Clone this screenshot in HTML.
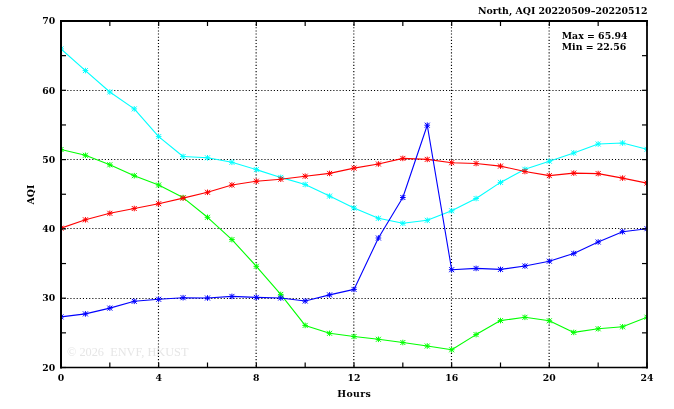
<!DOCTYPE html>
<html lang="en">
<head>
<meta charset="utf-8">
<title>North, AQI 20220509-20220512</title>
<style>
html,body{margin:0;padding:0;background:#fff;}
body{width:674px;height:409px;overflow:hidden;}
svg{display:block;}
text{font-family:"DejaVu Serif", "Liberation Serif", serif;font-weight:bold;fill:#000;}
.tk{font-size:9.3px;}
.lb{font-size:9.4px;}
.wm{font-family:"Liberation Serif",serif;font-weight:normal;font-size:12.3px;fill:#e6e6e6;}
</style>
</head>
<body>
<svg width="674" height="409" viewBox="0 0 674 409">
<rect x="0" y="0" width="674" height="409" fill="#ffffff"/>

<text class="wm" x="67" y="355.7" xml:space="preserve">© 2026  ENVF, HKUST</text>
<g stroke="#000" stroke-width="1.15" stroke-dasharray="1.1 2.03" fill="none">
<line x1="158.47" y1="21.0" x2="158.47" y2="367.5"/>
<line x1="256.13" y1="21.0" x2="256.13" y2="367.5"/>
<line x1="353.80" y1="21.0" x2="353.80" y2="367.5"/>
<line x1="451.47" y1="21.0" x2="451.47" y2="367.5"/>
<line x1="549.13" y1="21.0" x2="549.13" y2="367.5"/>
<line x1="61.0" y1="90.50" x2="647.0" y2="90.50"/>
<line x1="61.0" y1="159.50" x2="647.0" y2="159.50"/>
<line x1="61.0" y1="228.50" x2="647.0" y2="228.50"/>
<line x1="61.0" y1="298.50" x2="647.0" y2="298.50"/>
</g>
<svg x="61" y="0" width="586" height="409" viewBox="61 0 586 409" overflow="hidden">
<g stroke="#00ffff" fill="none">
<polyline stroke-width="1.1" stroke-linejoin="round" points="61.00,48.90 85.42,70.60 109.83,92.00 134.25,108.90 158.67,136.60 183.08,156.50 207.50,157.80 231.92,162.30 256.33,169.60 280.75,177.40 305.17,184.50 329.58,196.10 354.00,208.00 378.42,218.30 402.83,223.30 427.25,220.30 451.67,210.80 476.08,198.50 500.50,182.40 524.92,169.30 549.33,161.20 573.75,152.90 598.17,144.00 622.58,143.00 647.00,149.30"/>
<path stroke-width="1.0" d="M58.20 48.90H63.80M61.00 46.10V51.70M58.50 46.40L63.50 51.40M58.50 51.40L63.50 46.40M82.62 70.60H88.22M85.42 67.80V73.40M82.92 68.10L87.92 73.10M82.92 73.10L87.92 68.10M107.03 92.00H112.63M109.83 89.20V94.80M107.33 89.50L112.33 94.50M107.33 94.50L112.33 89.50M131.45 108.90H137.05M134.25 106.10V111.70M131.75 106.40L136.75 111.40M131.75 111.40L136.75 106.40M155.87 136.60H161.47M158.67 133.80V139.40M156.17 134.10L161.17 139.10M156.17 139.10L161.17 134.10M180.28 156.50H185.88M183.08 153.70V159.30M180.58 154.00L185.58 159.00M180.58 159.00L185.58 154.00M204.70 157.80H210.30M207.50 155.00V160.60M205.00 155.30L210.00 160.30M205.00 160.30L210.00 155.30M229.12 162.30H234.72M231.92 159.50V165.10M229.42 159.80L234.42 164.80M229.42 164.80L234.42 159.80M253.53 169.60H259.13M256.33 166.80V172.40M253.83 167.10L258.83 172.10M253.83 172.10L258.83 167.10M277.95 177.40H283.55M280.75 174.60V180.20M278.25 174.90L283.25 179.90M278.25 179.90L283.25 174.90M302.37 184.50H307.97M305.17 181.70V187.30M302.67 182.00L307.67 187.00M302.67 187.00L307.67 182.00M326.78 196.10H332.38M329.58 193.30V198.90M327.08 193.60L332.08 198.60M327.08 198.60L332.08 193.60M351.20 208.00H356.80M354.00 205.20V210.80M351.50 205.50L356.50 210.50M351.50 210.50L356.50 205.50M375.62 218.30H381.22M378.42 215.50V221.10M375.92 215.80L380.92 220.80M375.92 220.80L380.92 215.80M400.03 223.30H405.63M402.83 220.50V226.10M400.33 220.80L405.33 225.80M400.33 225.80L405.33 220.80M424.45 220.30H430.05M427.25 217.50V223.10M424.75 217.80L429.75 222.80M424.75 222.80L429.75 217.80M448.87 210.80H454.47M451.67 208.00V213.60M449.17 208.30L454.17 213.30M449.17 213.30L454.17 208.30M473.28 198.50H478.88M476.08 195.70V201.30M473.58 196.00L478.58 201.00M473.58 201.00L478.58 196.00M497.70 182.40H503.30M500.50 179.60V185.20M498.00 179.90L503.00 184.90M498.00 184.90L503.00 179.90M522.12 169.30H527.72M524.92 166.50V172.10M522.42 166.80L527.42 171.80M522.42 171.80L527.42 166.80M546.53 161.20H552.13M549.33 158.40V164.00M546.83 158.70L551.83 163.70M546.83 163.70L551.83 158.70M570.95 152.90H576.55M573.75 150.10V155.70M571.25 150.40L576.25 155.40M571.25 155.40L576.25 150.40M595.37 144.00H600.97M598.17 141.20V146.80M595.67 141.50L600.67 146.50M595.67 146.50L600.67 141.50M619.78 143.00H625.38M622.58 140.20V145.80M620.08 140.50L625.08 145.50M620.08 145.50L625.08 140.50M644.20 149.30H649.80M647.00 146.50V152.10M644.50 146.80L649.50 151.80M644.50 151.80L649.50 146.80"/>
</g>
<g stroke="#00ff00" fill="none">
<polyline stroke-width="1.1" stroke-linejoin="round" points="61.00,149.50 85.42,155.30 109.83,164.80 134.25,175.70 158.67,185.00 183.08,197.60 207.50,217.30 231.92,239.60 256.33,266.30 280.75,294.40 305.17,325.40 329.58,333.30 354.00,336.50 378.42,339.30 402.83,342.50 427.25,346.00 451.67,349.80 476.08,334.60 500.50,320.60 524.92,317.30 549.33,320.80 573.75,332.40 598.17,328.80 622.58,326.80 647.00,317.20"/>
<path stroke-width="1.0" d="M58.20 149.50H63.80M61.00 146.70V152.30M58.50 147.00L63.50 152.00M58.50 152.00L63.50 147.00M82.62 155.30H88.22M85.42 152.50V158.10M82.92 152.80L87.92 157.80M82.92 157.80L87.92 152.80M107.03 164.80H112.63M109.83 162.00V167.60M107.33 162.30L112.33 167.30M107.33 167.30L112.33 162.30M131.45 175.70H137.05M134.25 172.90V178.50M131.75 173.20L136.75 178.20M131.75 178.20L136.75 173.20M155.87 185.00H161.47M158.67 182.20V187.80M156.17 182.50L161.17 187.50M156.17 187.50L161.17 182.50M180.28 197.60H185.88M183.08 194.80V200.40M180.58 195.10L185.58 200.10M180.58 200.10L185.58 195.10M204.70 217.30H210.30M207.50 214.50V220.10M205.00 214.80L210.00 219.80M205.00 219.80L210.00 214.80M229.12 239.60H234.72M231.92 236.80V242.40M229.42 237.10L234.42 242.10M229.42 242.10L234.42 237.10M253.53 266.30H259.13M256.33 263.50V269.10M253.83 263.80L258.83 268.80M253.83 268.80L258.83 263.80M277.95 294.40H283.55M280.75 291.60V297.20M278.25 291.90L283.25 296.90M278.25 296.90L283.25 291.90M302.37 325.40H307.97M305.17 322.60V328.20M302.67 322.90L307.67 327.90M302.67 327.90L307.67 322.90M326.78 333.30H332.38M329.58 330.50V336.10M327.08 330.80L332.08 335.80M327.08 335.80L332.08 330.80M351.20 336.50H356.80M354.00 333.70V339.30M351.50 334.00L356.50 339.00M351.50 339.00L356.50 334.00M375.62 339.30H381.22M378.42 336.50V342.10M375.92 336.80L380.92 341.80M375.92 341.80L380.92 336.80M400.03 342.50H405.63M402.83 339.70V345.30M400.33 340.00L405.33 345.00M400.33 345.00L405.33 340.00M424.45 346.00H430.05M427.25 343.20V348.80M424.75 343.50L429.75 348.50M424.75 348.50L429.75 343.50M448.87 349.80H454.47M451.67 347.00V352.60M449.17 347.30L454.17 352.30M449.17 352.30L454.17 347.30M473.28 334.60H478.88M476.08 331.80V337.40M473.58 332.10L478.58 337.10M473.58 337.10L478.58 332.10M497.70 320.60H503.30M500.50 317.80V323.40M498.00 318.10L503.00 323.10M498.00 323.10L503.00 318.10M522.12 317.30H527.72M524.92 314.50V320.10M522.42 314.80L527.42 319.80M522.42 319.80L527.42 314.80M546.53 320.80H552.13M549.33 318.00V323.60M546.83 318.30L551.83 323.30M546.83 323.30L551.83 318.30M570.95 332.40H576.55M573.75 329.60V335.20M571.25 329.90L576.25 334.90M571.25 334.90L576.25 329.90M595.37 328.80H600.97M598.17 326.00V331.60M595.67 326.30L600.67 331.30M595.67 331.30L600.67 326.30M619.78 326.80H625.38M622.58 324.00V329.60M620.08 324.30L625.08 329.30M620.08 329.30L625.08 324.30M644.20 317.20H649.80M647.00 314.40V320.00M644.50 314.70L649.50 319.70M644.50 319.70L649.50 314.70"/>
</g>
<g stroke="#ff0000" fill="none">
<polyline stroke-width="1.1" stroke-linejoin="round" points="61.00,228.20 85.42,219.80 109.83,213.30 134.25,208.50 158.67,203.70 183.08,198.10 207.50,192.30 231.92,185.00 256.33,181.20 280.75,179.20 305.17,176.20 329.58,173.40 354.00,168.10 378.42,164.00 402.83,158.40 427.25,159.40 451.67,162.70 476.08,163.50 500.50,166.10 524.92,171.50 549.33,175.60 573.75,173.10 598.17,173.60 622.58,178.10 647.00,183.10"/>
<path stroke-width="1.0" d="M58.20 228.20H63.80M61.00 225.40V231.00M58.50 225.70L63.50 230.70M58.50 230.70L63.50 225.70M82.62 219.80H88.22M85.42 217.00V222.60M82.92 217.30L87.92 222.30M82.92 222.30L87.92 217.30M107.03 213.30H112.63M109.83 210.50V216.10M107.33 210.80L112.33 215.80M107.33 215.80L112.33 210.80M131.45 208.50H137.05M134.25 205.70V211.30M131.75 206.00L136.75 211.00M131.75 211.00L136.75 206.00M155.87 203.70H161.47M158.67 200.90V206.50M156.17 201.20L161.17 206.20M156.17 206.20L161.17 201.20M180.28 198.10H185.88M183.08 195.30V200.90M180.58 195.60L185.58 200.60M180.58 200.60L185.58 195.60M204.70 192.30H210.30M207.50 189.50V195.10M205.00 189.80L210.00 194.80M205.00 194.80L210.00 189.80M229.12 185.00H234.72M231.92 182.20V187.80M229.42 182.50L234.42 187.50M229.42 187.50L234.42 182.50M253.53 181.20H259.13M256.33 178.40V184.00M253.83 178.70L258.83 183.70M253.83 183.70L258.83 178.70M277.95 179.20H283.55M280.75 176.40V182.00M278.25 176.70L283.25 181.70M278.25 181.70L283.25 176.70M302.37 176.20H307.97M305.17 173.40V179.00M302.67 173.70L307.67 178.70M302.67 178.70L307.67 173.70M326.78 173.40H332.38M329.58 170.60V176.20M327.08 170.90L332.08 175.90M327.08 175.90L332.08 170.90M351.20 168.10H356.80M354.00 165.30V170.90M351.50 165.60L356.50 170.60M351.50 170.60L356.50 165.60M375.62 164.00H381.22M378.42 161.20V166.80M375.92 161.50L380.92 166.50M375.92 166.50L380.92 161.50M400.03 158.40H405.63M402.83 155.60V161.20M400.33 155.90L405.33 160.90M400.33 160.90L405.33 155.90M424.45 159.40H430.05M427.25 156.60V162.20M424.75 156.90L429.75 161.90M424.75 161.90L429.75 156.90M448.87 162.70H454.47M451.67 159.90V165.50M449.17 160.20L454.17 165.20M449.17 165.20L454.17 160.20M473.28 163.50H478.88M476.08 160.70V166.30M473.58 161.00L478.58 166.00M473.58 166.00L478.58 161.00M497.70 166.10H503.30M500.50 163.30V168.90M498.00 163.60L503.00 168.60M498.00 168.60L503.00 163.60M522.12 171.50H527.72M524.92 168.70V174.30M522.42 169.00L527.42 174.00M522.42 174.00L527.42 169.00M546.53 175.60H552.13M549.33 172.80V178.40M546.83 173.10L551.83 178.10M546.83 178.10L551.83 173.10M570.95 173.10H576.55M573.75 170.30V175.90M571.25 170.60L576.25 175.60M571.25 175.60L576.25 170.60M595.37 173.60H600.97M598.17 170.80V176.40M595.67 171.10L600.67 176.10M595.67 176.10L600.67 171.10M619.78 178.10H625.38M622.58 175.30V180.90M620.08 175.60L625.08 180.60M620.08 180.60L625.08 175.60M644.20 183.10H649.80M647.00 180.30V185.90M644.50 180.60L649.50 185.60M644.50 185.60L649.50 180.60"/>
</g>
<g stroke="#0000ff" fill="none">
<polyline stroke-width="1.1" stroke-linejoin="round" points="61.00,316.90 85.42,313.90 109.83,308.10 134.25,301.30 158.67,299.30 183.08,297.70 207.50,298.00 231.92,296.40 256.33,297.40 280.75,298.00 305.17,301.00 329.58,294.90 354.00,289.40 378.42,238.00 402.83,197.50 427.25,125.20 451.67,269.70 476.08,268.40 500.50,269.40 524.92,266.00 549.33,261.20 573.75,253.40 598.17,242.00 622.58,231.70 647.00,228.70"/>
<path stroke-width="1.0" d="M58.20 316.90H63.80M61.00 314.10V319.70M58.50 314.40L63.50 319.40M58.50 319.40L63.50 314.40M82.62 313.90H88.22M85.42 311.10V316.70M82.92 311.40L87.92 316.40M82.92 316.40L87.92 311.40M107.03 308.10H112.63M109.83 305.30V310.90M107.33 305.60L112.33 310.60M107.33 310.60L112.33 305.60M131.45 301.30H137.05M134.25 298.50V304.10M131.75 298.80L136.75 303.80M131.75 303.80L136.75 298.80M155.87 299.30H161.47M158.67 296.50V302.10M156.17 296.80L161.17 301.80M156.17 301.80L161.17 296.80M180.28 297.70H185.88M183.08 294.90V300.50M180.58 295.20L185.58 300.20M180.58 300.20L185.58 295.20M204.70 298.00H210.30M207.50 295.20V300.80M205.00 295.50L210.00 300.50M205.00 300.50L210.00 295.50M229.12 296.40H234.72M231.92 293.60V299.20M229.42 293.90L234.42 298.90M229.42 298.90L234.42 293.90M253.53 297.40H259.13M256.33 294.60V300.20M253.83 294.90L258.83 299.90M253.83 299.90L258.83 294.90M277.95 298.00H283.55M280.75 295.20V300.80M278.25 295.50L283.25 300.50M278.25 300.50L283.25 295.50M302.37 301.00H307.97M305.17 298.20V303.80M302.67 298.50L307.67 303.50M302.67 303.50L307.67 298.50M326.78 294.90H332.38M329.58 292.10V297.70M327.08 292.40L332.08 297.40M327.08 297.40L332.08 292.40M351.20 289.40H356.80M354.00 286.60V292.20M351.50 286.90L356.50 291.90M351.50 291.90L356.50 286.90M375.62 238.00H381.22M378.42 235.20V240.80M375.92 235.50L380.92 240.50M375.92 240.50L380.92 235.50M400.03 197.50H405.63M402.83 194.70V200.30M400.33 195.00L405.33 200.00M400.33 200.00L405.33 195.00M424.45 125.20H430.05M427.25 122.40V128.00M424.75 122.70L429.75 127.70M424.75 127.70L429.75 122.70M448.87 269.70H454.47M451.67 266.90V272.50M449.17 267.20L454.17 272.20M449.17 272.20L454.17 267.20M473.28 268.40H478.88M476.08 265.60V271.20M473.58 265.90L478.58 270.90M473.58 270.90L478.58 265.90M497.70 269.40H503.30M500.50 266.60V272.20M498.00 266.90L503.00 271.90M498.00 271.90L503.00 266.90M522.12 266.00H527.72M524.92 263.20V268.80M522.42 263.50L527.42 268.50M522.42 268.50L527.42 263.50M546.53 261.20H552.13M549.33 258.40V264.00M546.83 258.70L551.83 263.70M546.83 263.70L551.83 258.70M570.95 253.40H576.55M573.75 250.60V256.20M571.25 250.90L576.25 255.90M571.25 255.90L576.25 250.90M595.37 242.00H600.97M598.17 239.20V244.80M595.67 239.50L600.67 244.50M595.67 244.50L600.67 239.50M619.78 231.70H625.38M622.58 228.90V234.50M620.08 229.20L625.08 234.20M620.08 234.20L625.08 229.20M644.20 228.70H649.80M647.00 225.90V231.50M644.50 226.20L649.50 231.20M644.50 231.20L649.50 226.20"/>
</g>
</svg>
<g stroke="#000" stroke-width="1.2" fill="none">
<line x1="61.00" y1="367.5" x2="61.00" y2="362.5"/>
<line x1="61.00" y1="21.0" x2="61.00" y2="26.0"/>
<line x1="109.83" y1="367.5" x2="109.83" y2="362.5"/>
<line x1="109.83" y1="21.0" x2="109.83" y2="26.0"/>
<line x1="158.67" y1="367.5" x2="158.67" y2="362.5"/>
<line x1="158.67" y1="21.0" x2="158.67" y2="26.0"/>
<line x1="207.50" y1="367.5" x2="207.50" y2="362.5"/>
<line x1="207.50" y1="21.0" x2="207.50" y2="26.0"/>
<line x1="256.33" y1="367.5" x2="256.33" y2="362.5"/>
<line x1="256.33" y1="21.0" x2="256.33" y2="26.0"/>
<line x1="305.17" y1="367.5" x2="305.17" y2="362.5"/>
<line x1="305.17" y1="21.0" x2="305.17" y2="26.0"/>
<line x1="354.00" y1="367.5" x2="354.00" y2="362.5"/>
<line x1="354.00" y1="21.0" x2="354.00" y2="26.0"/>
<line x1="402.83" y1="367.5" x2="402.83" y2="362.5"/>
<line x1="402.83" y1="21.0" x2="402.83" y2="26.0"/>
<line x1="451.67" y1="367.5" x2="451.67" y2="362.5"/>
<line x1="451.67" y1="21.0" x2="451.67" y2="26.0"/>
<line x1="500.50" y1="367.5" x2="500.50" y2="362.5"/>
<line x1="500.50" y1="21.0" x2="500.50" y2="26.0"/>
<line x1="549.33" y1="367.5" x2="549.33" y2="362.5"/>
<line x1="549.33" y1="21.0" x2="549.33" y2="26.0"/>
<line x1="598.17" y1="367.5" x2="598.17" y2="362.5"/>
<line x1="598.17" y1="21.0" x2="598.17" y2="26.0"/>
<line x1="647.00" y1="367.5" x2="647.00" y2="362.5"/>
<line x1="647.00" y1="21.0" x2="647.00" y2="26.0"/>
<line x1="61.0" y1="367.50" x2="66.0" y2="367.50"/>
<line x1="647.0" y1="367.50" x2="642.0" y2="367.50"/>
<line x1="61.0" y1="332.85" x2="66.0" y2="332.85"/>
<line x1="647.0" y1="332.85" x2="642.0" y2="332.85"/>
<line x1="61.0" y1="298.20" x2="66.0" y2="298.20"/>
<line x1="647.0" y1="298.20" x2="642.0" y2="298.20"/>
<line x1="61.0" y1="263.55" x2="66.0" y2="263.55"/>
<line x1="647.0" y1="263.55" x2="642.0" y2="263.55"/>
<line x1="61.0" y1="228.90" x2="66.0" y2="228.90"/>
<line x1="647.0" y1="228.90" x2="642.0" y2="228.90"/>
<line x1="61.0" y1="194.25" x2="66.0" y2="194.25"/>
<line x1="647.0" y1="194.25" x2="642.0" y2="194.25"/>
<line x1="61.0" y1="159.60" x2="66.0" y2="159.60"/>
<line x1="647.0" y1="159.60" x2="642.0" y2="159.60"/>
<line x1="61.0" y1="124.95" x2="66.0" y2="124.95"/>
<line x1="647.0" y1="124.95" x2="642.0" y2="124.95"/>
<line x1="61.0" y1="90.30" x2="66.0" y2="90.30"/>
<line x1="647.0" y1="90.30" x2="642.0" y2="90.30"/>
<line x1="61.0" y1="55.65" x2="66.0" y2="55.65"/>
<line x1="647.0" y1="55.65" x2="642.0" y2="55.65"/>
<line x1="61.0" y1="21.00" x2="66.0" y2="21.00"/>
<line x1="647.0" y1="21.00" x2="642.0" y2="21.00"/>
</g>
<g stroke="#000" fill="none" stroke-linecap="square">
<line x1="61" y1="21" x2="61" y2="367.5" stroke-width="2"/>
<line x1="61" y1="21" x2="647" y2="21" stroke-width="2"/>
<line x1="647" y1="21" x2="647" y2="367.5" stroke-width="1.8"/>
<line x1="61" y1="367.5" x2="647" y2="367.5" stroke-width="1.6"/>
</g>
<text class="tk" x="61.00" y="381.3" text-anchor="middle">0</text>
<text class="tk" x="158.67" y="381.3" text-anchor="middle">4</text>
<text class="tk" x="256.33" y="381.3" text-anchor="middle">8</text>
<text class="tk" x="354.00" y="381.3" text-anchor="middle">12</text>
<text class="tk" x="451.67" y="381.3" text-anchor="middle">16</text>
<text class="tk" x="549.33" y="381.3" text-anchor="middle">20</text>
<text class="tk" x="647.00" y="381.3" text-anchor="middle">24</text>
<text class="tk" x="55.2" y="370.70" text-anchor="end">20</text>
<text class="tk" x="55.2" y="301.40" text-anchor="end">30</text>
<text class="tk" x="55.2" y="232.10" text-anchor="end">40</text>
<text class="tk" x="55.2" y="162.80" text-anchor="end">50</text>
<text class="tk" x="55.2" y="93.50" text-anchor="end">60</text>
<text class="tk" x="55.2" y="24.20" text-anchor="end">70</text>
<text class="lb" x="354.2" y="397" text-anchor="middle" letter-spacing="0.35">Hours</text>
<text class="lb" transform="translate(34 194.5) rotate(-90)" text-anchor="middle">AQI</text>
<text class="lb" x="647.6" y="13.7" text-anchor="end">North, AQI 20220509–20220512</text>
<text class="lb" x="561.7" y="38.7">Max = 65.94</text>
<text class="lb" x="561.7" y="50.1">Min = 22.56</text>
</svg>
</body>
</html>
